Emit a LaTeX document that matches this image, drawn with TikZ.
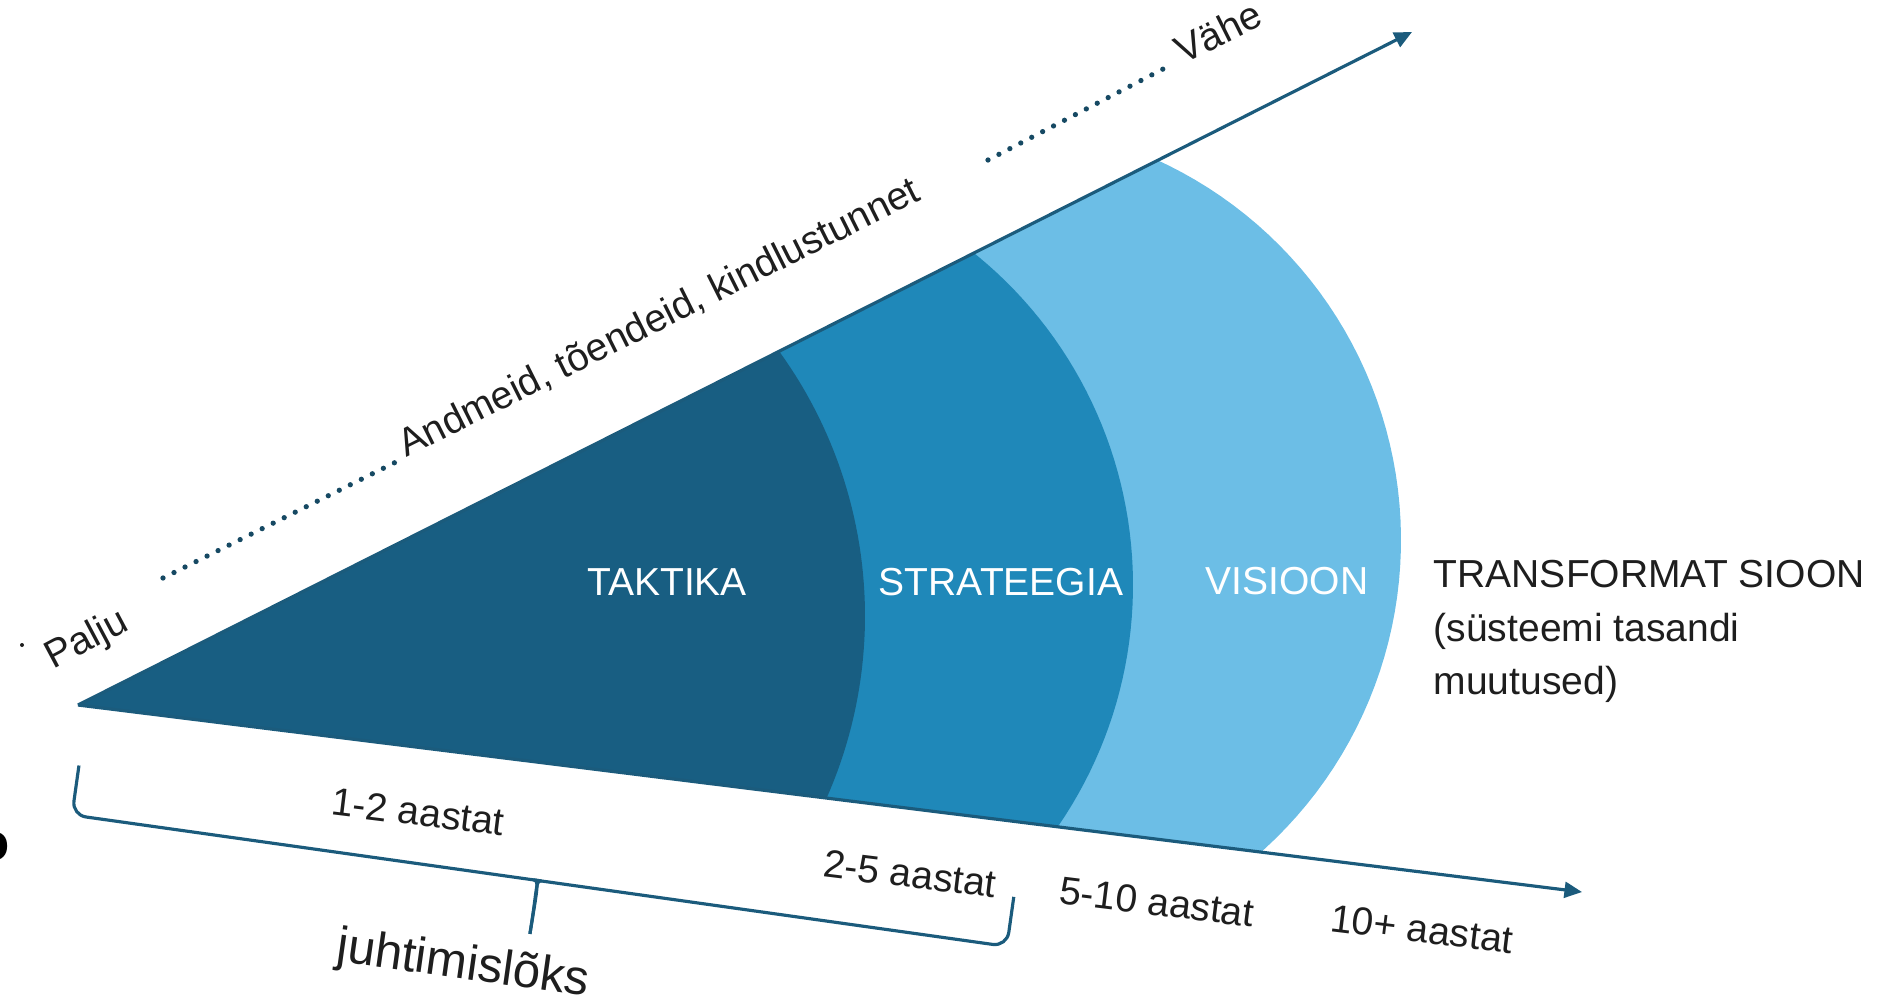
\documentclass[tikz,border=0pt]{standalone}
\usepackage{fontspec}
\setmainfont{Liberation Sans}
\definecolor{wgText}{HTML}{1E1E1E}
\definecolor{wgLine}{HTML}{1B5B7C}
\definecolor{wgDark}{HTML}{185E82}
\definecolor{wgMid}{HTML}{1F88B9}
\definecolor{wgLight}{HTML}{6CBEE6}
\usetikzlibrary{calc,arrows.meta}

\begin{document}
\begin{tikzpicture}[x=0.01cm, y=-0.01cm,
  band/.style={text=white, font=\fontsize{11.1}{13}\selectfont},
  note/.style={text=wgText, font=\fontsize{11.1}{13}\selectfont},
  yrs/.style={note, rotate=-7},
  axis/.style={-{Triangle[length=5pt,width=4.5pt]}, line width=0.9pt, color=wgLine},
  dots/.style={wgLine!80!black, line width=1.5pt, line cap=round, dash pattern=on 0pt off 3.5pt}
]
  \useasboundingbox (0,0) rectangle (1886,1003);

  \coordinate (apex) at (78,705);
  \coordinate (topTip) at (1412,32);
  \coordinate (botTip) at (1582,892);

  % fan bands, light to dark
  \begin{scope}
    \clip (apex) -- ($(apex)!1.5!(topTip)$) -- ($(apex)!1.5!(botTip)$) -- cycle;
    \fill[wgLight] (apex) -- plot[domain=-70:54, samples=60] ({983+418*cos(\x)}, {540+418*sin(\x)}) -- cycle;
    \fill[wgMid] (apex) -- plot[domain=-57:41, samples=60] ({707+426*cos(\x)}, {585+426*sin(\x)}) -- cycle;
    \fill[wgDark] (apex) -- plot[domain=-42:30, samples=60] ({414+451*cos(\x)}, {616+451*sin(\x)}) -- cycle;
  \end{scope}

  \draw[axis] (apex) -- (topTip);
  \draw[axis] (apex) -- (botTip);

  \node[band] (taktika) at (667,582) {TAKTIKA};
  \node[band] (strat) at (1001,582) {STRATEEGIA};
  \node[band] (visioon) at (1287,581) {VISIOON};

  \node[note, anchor=north west, inner sep=0, align=left,
    font=\fontsize{11.1}{15.2}\selectfont] (transf) at (1433,560)
    {TRANSFORMAT SIOON\\(süsteemi tasandi\\muutused)};

  % upper scale
  \fill[wgText] (22,645) circle (2);
  \node[note, rotate=28, anchor=base west, inner sep=0] (palju) at (53,670) {Palju};
  \coordinate (d1a) at (163,578);
  \coordinate (d1b) at (398,461);
  \draw[dots] (d1a) -- (d1b);
  \node[note, rotate=26.6, anchor=base west, inner sep=0] (andmeid) at (406,458)
    {Andmeid, tõendeid, kindlustunnet};
  \coordinate (d2a) at (988,160);
  \coordinate (d2b) at (1165,68);
  \draw[dots] (d2a) -- (d2b);
  \node[note, rotate=26.6, anchor=base west, inner sep=0] (vahe) at (1183,65) {Vähe};

  % time labels
  \node[yrs] (y12) at (418,812) {1-2 aastat};
  \node[yrs] (y25) at (910,874) {2-5 aastat};
  \node[yrs] (y510) at (1157,902) {5-10 aastat};
  \node[yrs] (y10) at (1422,929) {10+ aastat};

  % brace
  \begin{scope}[shift={(72,815)}, rotate=-8, wgLine, line width=0.9pt]
    \draw[rounded corners=4] (0,-50) -- (0,0) -- (460,0) .. controls (468,0) and (471,6) .. (470,54);
    \draw[rounded corners=4] (944,-50) -- (944,0) -- (480,0) .. controls (472,0) and (471,6) .. (470,54);
  \end{scope}
  \node[note, rotate=-8, font=\fontsize{14}{16}\selectfont] (trap) at (463,966) {juhtimislõks};

  \node[text=black, font=\fontsize{15}{15}\selectfont\bfseries] (edge) at (-6,847) {o};
\end{tikzpicture}
\end{document}
